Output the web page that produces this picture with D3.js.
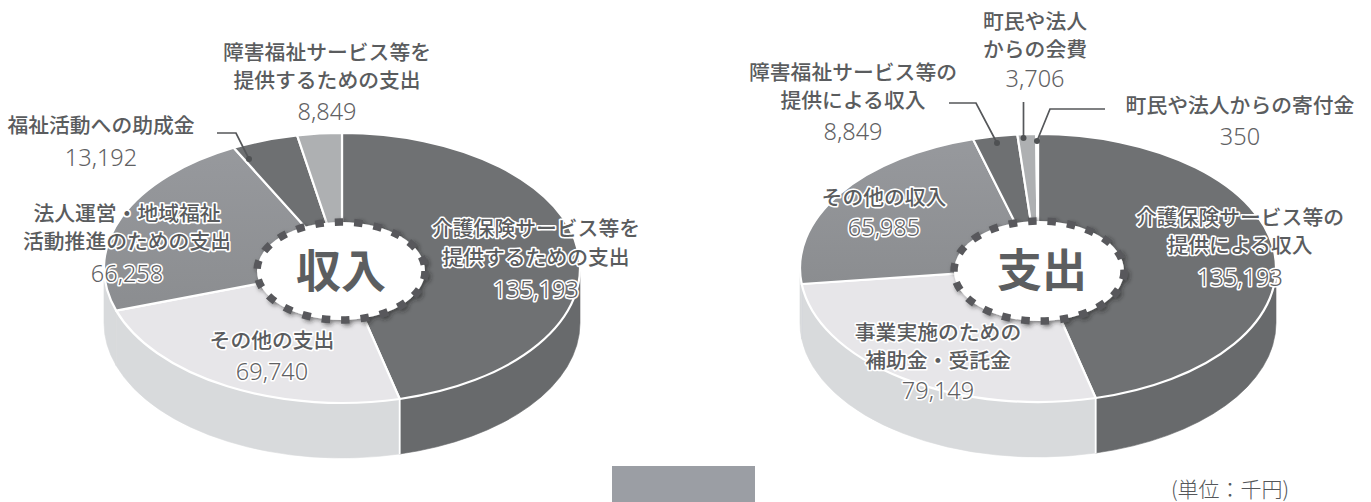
<!DOCTYPE html>
<html lang="ja"><head><meta charset="utf-8">
<script src="https://cdn.jsdelivr.net/npm/d3@7"></script>
<style>
html,body{margin:0;padding:0;background:#fff;overflow:hidden}
svg{display:block}
.cat{font-family:"Noto Sans CJK JP",sans-serif;font-weight:500;font-size:20.8px;fill:#5a5c5e;text-anchor:middle}
.num{font-family:"Noto Sans",sans-serif;font-weight:300;font-size:23.5px;fill:#5f6163;text-anchor:middle}
.halo{paint-order:stroke;stroke:#fff;stroke-width:3.2px;stroke-linejoin:round}
.center{font-family:"Noto Sans CJK JP",sans-serif;font-weight:700;font-size:45px;fill:#5c5e60;text-anchor:middle}
.unit{font-family:"Noto Sans CJK JP",sans-serif;font-weight:300;font-size:21px;fill:#55575a;text-anchor:middle}
.leader{fill:none;stroke:#55575a;stroke-width:1.7}
</style></head><body>
<svg id="c" width="1371" height="502" xmlns="http://www.w3.org/2000/svg"></svg>
<script>
// ---- data ----
const incomeCategories = [["介護保険サービス等を","提供するための支出"],["その他の支出"],["法人運営・地域福祉","活動推進のための支出"],["福祉活動への助成金"],["障害福祉サービス等を","提供するための支出"]];
const incomeValues = [135193,69740,66258,13192,8849];
const expenseCategories = [["介護保険サービス等の","提供による収入"],["事業実施のための","補助金・受託金"],["その他の収入"],["障害福祉サービス等の","提供による収入"],["町民や法人","からの会費"],["町民や法人からの寄付金"]];
const expenseValues = [135193,79149,65985,8849,3706,350];
const unitLabel = "(単位：千円)";

// ---- styles and layout (not data) ----
const topFillsIncome  = ["#6f7173","#e7e6e9","url(#gMid)","#6e7072","#aeb0b2"];
const sideFillsIncome = ["#686a6c","#d8dadc","#d8dadc","#6e7072","#aeb0b2"];
const topFillsExpense  = ["#6f7173","#e7e6e9","url(#gMid)","#6e7072","#aeb0b2","#8e9093"];
const sideFillsExpense = ["#686a6c","#d8dadc","#d8dadc","#6e7072","#aeb0b2","#8e9093"];
const incomeLayout = {cx:342,cy:268,rx:238,ry:135,depth:55,hx:341,hy:271,hrx:84,hry:49,title:"収入",titleX:341,titleY:288,
  labels:[{x:536,y:[236,265],n:298,halo:1},{x:272,y:[348],n:380,halo:1},{x:127,y:[221,249],n:282,halo:1},{x:101,y:[133],n:166},{x:327,y:[60,88],n:120}],
  leaders:[[[217,133],[236,133],[249,159]]]};
const expenseLayout = {cx:1038,cy:268,rx:238,ry:134,depth:55,hx:1039,hy:271,hrx:85,hry:50,title:"支出",titleX:1042,titleY:287,
  labels:[{x:1240,y:[225,253],n:286,halo:1},{x:938,y:[340,368],n:399,halo:1},{x:884,y:[205],n:236,halo:1},{x:853,y:[80,108],n:140},{x:1035,y:[29,57],n:87},{x:1240,y:[113],n:145}],
  leaders:[[[949,103],[976,103],[997,143]],[[1023.5,102],[1023.5,138]],[[1105,109],[1050,109],[1037,141]]]};

const svg = d3.select("#c");
svg.append("rect").attr("width",1371).attr("height",502).attr("fill","#fff");
const defs = svg.append("defs");
const gm=defs.append("linearGradient").attr("id","gMid").attr("x1",0).attr("y1",0).attr("x2",0).attr("y2",1);
gm.append("stop").attr("offset",0).attr("stop-color","#97999d");
gm.append("stop").attr("offset",1).attr("stop-color","#8b8d90");
const sh = defs.append("filter").attr("id","shadow").attr("x","-20%").attr("y","-20%").attr("width","140%").attr("height","140%");
sh.append("feDropShadow").attr("dx",2).attr("dy",2).attr("stdDeviation",2).attr("flood-color","#222").attr("flood-opacity",.55);

const fmt = d3.format(",");
const pie = d3.pie().sort(null).value(d=>d);

function drawPie(values,cats,topFills,sideFills,L){
  const arcs = pie(values), k = L.ry/L.rx;
  const arcGen = d3.arc().innerRadius(0).outerRadius(L.rx);
  const g = svg.append("g").attr("transform",`translate(${L.cx},${L.cy}) scale(1,${k})`);
  const off=L.depth/k, front=[Math.PI/2,3*Math.PI/2];
  // side wall: the front half of the ellipse only
  arcs.forEach((a,i)=>{
    const a0=Math.max(a.startAngle,front[0]), a1=Math.min(a.endAngle,front[1]);
    if(a1<=a0) return;
    const p=d3.path();
    p.arc(0,0,L.rx,a0-Math.PI/2,a1-Math.PI/2);
    p.arc(0,off,L.rx,a1-Math.PI/2,a0-Math.PI/2,true);
    p.closePath();
    g.append("path").attr("d",p.toString()).attr("fill",sideFills[i]).attr("stroke",sideFills[i]).attr("stroke-width",.6).attr("vector-effect","non-scaling-stroke");
  });
  // vertical white seam where the first slice ends on the wall
  const seam=arcs[0].endAngle-Math.PI/2;
  g.append("path").attr("d",d3.line()([[L.rx*Math.cos(seam),L.rx*Math.sin(seam)],[L.rx*Math.cos(seam),L.rx*Math.sin(seam)+off]]))
    .attr("stroke","#fff").attr("stroke-width",1.8).attr("fill","none").attr("vector-effect","non-scaling-stroke");
  g.selectAll("path.top").data(arcs).join("path").attr("class","top")
    .attr("d",arcGen).attr("fill",(d,i)=>topFills[i])
    .attr("stroke","#fff").attr("stroke-width",2.2).attr("stroke-linejoin","round").attr("vector-effect","non-scaling-stroke");
  // leaders
  const line=d3.line();
  L.leaders.forEach(pts=>{
    svg.append("path").attr("class","leader").attr("d",line(pts));
    const e=pts[pts.length-1];
    svg.append("circle").attr("cx",e[0]).attr("cy",e[1]).attr("r",3).attr("fill","#4f5153");
  });
  // centre hole
  svg.append("ellipse").attr("cx",L.hx).attr("cy",L.hy).attr("rx",L.hrx).attr("ry",L.hry)
    .attr("fill","#fff").attr("stroke","#58595c").attr("stroke-width",7.5)
    .attr("stroke-dasharray","8.5 11").attr("filter","url(#shadow)");
  svg.append("text").attr("class","center").attr("x",L.titleX).attr("y",L.titleY).text(L.title);
  // labels
  cats.forEach((lines,i)=>{
    const lb=L.labels[i], h=lb.halo?" halo":"";
    lines.forEach((t,j)=>svg.append("text").attr("class","cat"+h).attr("x",lb.x).attr("y",lb.y[j]).text(t));
    svg.append("text").attr("class","num"+h).attr("x",lb.x).attr("y",lb.n).text(fmt(values[i]));
  });
}
drawPie(incomeValues,incomeCategories,topFillsIncome,sideFillsIncome,incomeLayout);
drawPie(expenseValues,expenseCategories,topFillsExpense,sideFillsExpense,expenseLayout);
svg.append("rect").attr("x",612).attr("y",466).attr("width",143).attr("height",36).attr("fill","#9b9ea4");
svg.append("text").attr("class","unit").attr("x",1230).attr("y",497).text(unitLabel);
</script></body></html>
